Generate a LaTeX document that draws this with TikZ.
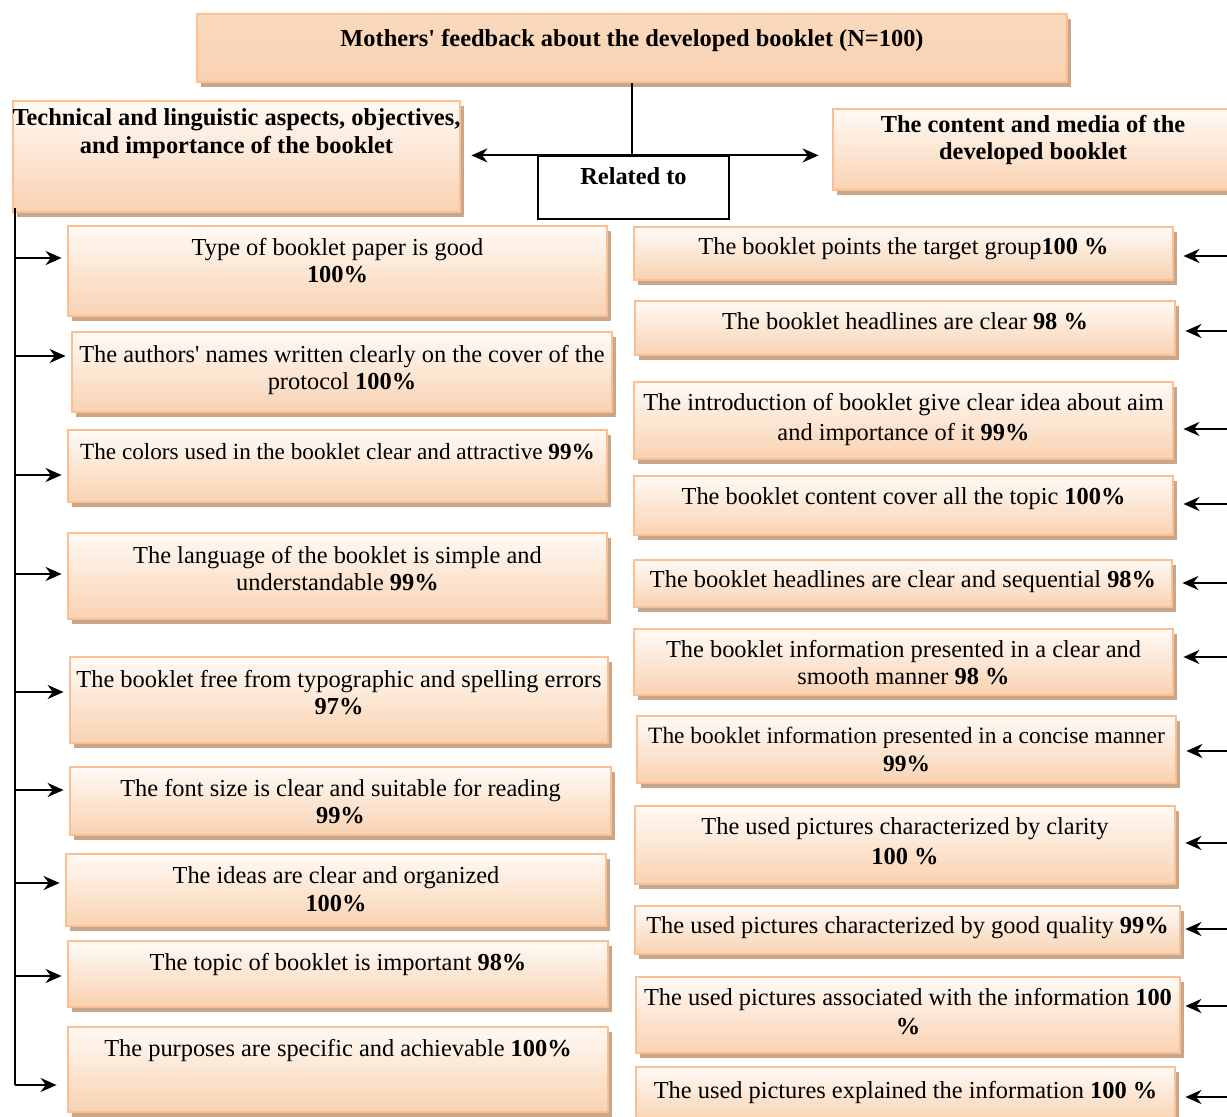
\documentclass[tikz,border=0pt]{standalone}
\usepackage{fontspec}
\setmainfont{Liberation Serif}[Ligatures=TeXOff]
\usetikzlibrary{arrows.meta,positioning,shadows}
\definecolor{fbedge}{RGB}{250,192,148}
\definecolor{fbtop}{RGB}{255,250,245}
\definecolor{fbbot}{RGB}{249,210,178}
\definecolor{fbshadow}{RGB}{200,166,138}
\newcommand{\fbfont}{\fontsize{12.2pt}{13.8pt}\selectfont}

\begin{document}
\begin{tikzpicture}[x=0.5pt,y=-0.5pt,
		fbsize/.style 2 args={minimum width=#1*0.5pt, minimum height=#2*0.5pt},
		fbbox/.style={rectangle, draw=fbedge, line width=1.4pt, top color=fbtop, bottom color=fbbot, inner sep=0pt,
			drop shadow={shadow xshift=2pt, shadow yshift=-2.4pt, fill=fbshadow, opacity=1}},
		fbtext/.style={font=\fbfont, align=center, inner sep=0pt},
		fbarrow/.style={line width=1.1pt, -{Stealth[length=8pt,width=7pt]}}]
		\useasboundingbox (0,0) rectangle (1227,1117);
		% headers
		\node[fbbox, fbsize={870}{68}, top color=fbbot!85, middle color=fbtop, bottom color=fbbot] (top) at (632,48) {};
		\node[fbtext, below=8pt of top.north] (topt) {\textbf{Mothers' feedback about the developed booklet (N=100)}};
		\node[fbbox, fbsize={447}{111}] (hl) at (236.5,156.5) {};
		\node[fbtext, below=4.5pt of hl.north] (hlt) {\textbf{Technical and linguistic aspects, objectives,}\\\textbf{and importance of the booklet}};
		\node[fbbox, fbsize={400}{81}] (hr) at (1033,149.5) {};
		\node[fbtext, below=3.5pt of hr.north] (hrt) {\textbf{The content and media of the}\\\textbf{developed booklet}};
		\node[rectangle, draw=black, line width=0.6pt, fill=white, fbsize={191}{63}] (rel) at (633.5,187.5) {};
		\node[fbtext, below=6pt of rel.north] (relt) {\textbf{Related to}};
		\draw[line width=1.1pt] (top.south) -- (top.south |- rel.north);
		\draw[line width=1.1pt, {Stealth[length=8pt,width=7pt]}-{Stealth[length=8pt,width=7pt]}, shorten <=5pt, shorten >=6.5pt] (hl.east |- rel.north) -- (hr.west |- rel.north);

		% left column
		\node[fbbox, fbsize={539}{90}] (l1) at (337.5,271) {};
		\node[fbtext, below=6.5pt of l1.north] (l1t) {Type of booklet paper is good\\\textbf{100\%}};
		\node[fbbox, fbsize={540}{80}] (l2) at (342,372) {};
		\node[fbtext, below=7pt of l2.north] (l2t) {The authors' names written clearly on the cover of the\\protocol \textbf{100\%}};
		\node[fbbox, fbsize={539}{72}] (l3) at (337.5,466) {};
		\node[fbtext, below=7pt of l3.north, font=\fontsize{11.6pt}{13.8pt}\selectfont] (l3t) {The colors used in the booklet clear and attractive \textbf{99\%}};
		\node[fbbox, fbsize={539}{86}] (l4) at (337.5,576) {};
		\node[fbtext, below=7pt of l4.north] (l4t) {The language of the booklet is simple and\\understandable \textbf{99\%}};
		\node[fbbox, fbsize={538}{86}] (l5) at (339,700) {};
		\node[fbtext, below=7pt of l5.north] (l5t) {The booklet free from typographic and spelling errors\\\textbf{97\%}};
		\node[fbbox, fbsize={541}{68}] (l6) at (340.5,801) {};
		\node[fbtext, below=6.5pt of l6.north] (l6t) {The font size is clear and suitable for reading\\\textbf{99\%}};
		\node[fbbox, fbsize={540}{72}] (l7) at (336,890) {};
		\node[fbtext, below=7pt of l7.north] (l7t) {The ideas are clear and organized\\\textbf{100\%}};
		\node[fbbox, fbsize={540}{66}] (l8) at (338,974) {};
		\node[fbtext, below=6.5pt of l8.north] (l8t) {The topic of booklet is important \textbf{98\%}};
		\node[fbbox, fbsize={540}{85}] (l9) at (338,1069.5) {};
		\node[fbtext, below=6.5pt of l9.north] (l9t) {The purposes are specific and achievable \textbf{100\%}};

		% right column
		\node[fbbox, fbsize={539}{53}] (r1) at (903.5,253.5) {};
		\node[fbtext, below=6pt of r1.north] (r1t) {The booklet points the target group\textbf{100 \%}};
		\node[fbbox, fbsize={540}{54}] (r2) at (905,328) {};
		\node[fbtext, below=6.5pt of r2.north] (r2t) {The booklet headlines are clear \textbf{98 \%}};
		\node[fbbox, fbsize={539}{77}] (r3) at (903.5,420.5) {};
		\node[fbtext, below=6pt of r3.north, font=\fontsize{12.2pt}{15pt}\selectfont] (r3t) {The introduction of booklet give clear idea about aim\\and importance of it \textbf{99\%}};
		\node[fbbox, fbsize={539}{59}] (r4) at (903.5,505.5) {};
		\node[fbtext, below=6.5pt of r4.north] (r4t) {The booklet content cover all the topic \textbf{100\%}};
		\node[fbbox, fbsize={538}{47}] (r5) at (903,583.5) {};
		\node[fbtext, below=6pt of r5.north] (r5t) {The booklet headlines are clear and sequential \textbf{98\%}};
		\node[fbbox, fbsize={539}{66}] (r6) at (903.5,662) {};
		\node[fbtext, below=6pt of r6.north] (r6t) {The booklet information presented in a clear and\\smooth manner \textbf{98 \%}};
		\node[fbbox, fbsize={539}{67}] (r7) at (906.5,749.5) {};
		\node[fbtext, below=6pt of r7.north, font=\fontsize{11.7pt}{13.8pt}\selectfont] (r7t) {The booklet information presented in a concise manner\\\textbf{99\%}};
		\node[fbbox, fbsize={540}{78}] (r8) at (905,845) {};
		\node[fbtext, below=6.5pt of r8.north, font=\fontsize{12.2pt}{14.6pt}\selectfont] (r8t) {The used pictures characterized by clarity\\\textbf{100 \%}};
		\node[fbbox, fbsize={545}{48}] (r9) at (907.5,930) {};
		\node[fbtext, below=6pt of r9.north] (r9t) {The used pictures characterized by good quality \textbf{99\%}};
		\node[fbbox, fbsize={544}{76}] (r10) at (908,1015) {};
		\node[fbtext, below=6pt of r10.north, font=\fontsize{12.2pt}{14.6pt}\selectfont] (r10t) {The used pictures associated with the information \textbf{100}\\\textbf{\%}};
		\node[fbbox, fbsize={539}{55}] (r11) at (905.5,1094.5) {};
		\node[fbtext, below=7.5pt of r11.north] (r11t) {The used pictures explained the information \textbf{100 \%}};

		% left spine and arrows
		\coordinate (st) at (15,208);
		\coordinate (s1) at (15,258);
		\coordinate (s2) at (15,356);
		\coordinate (s3) at (15,475);
		\coordinate (s4) at (15,574);
		\coordinate (s5) at (15,692);
		\coordinate (s6) at (15,790);
		\coordinate (s7) at (15,883);
		\coordinate (s8) at (15,976);
		\coordinate (s9) at (15,1085);
		\draw[line width=1.1pt] (st) -- (s9);
		\draw[fbarrow, shorten >=2.5pt] (s1) -- (s1 -| l1.west);
		\draw[fbarrow, shorten >=2.5pt] (s2) -- (s2 -| l2.west);
		\draw[fbarrow, shorten >=2.5pt] (s3) -- (s3 -| l3.west);
		\draw[fbarrow, shorten >=2.5pt] (s4) -- (s4 -| l4.west);
		\draw[fbarrow, shorten >=2.5pt] (s5) -- (s5 -| l5.west);
		\draw[fbarrow, shorten >=2.5pt] (s6) -- (s6 -| l6.west);
		\draw[fbarrow, shorten >=2.5pt] (s7) -- (s7 -| l7.west);
		\draw[fbarrow, shorten >=2.5pt] (s8) -- (s8 -| l8.west);
		\draw[fbarrow, shorten >=5pt] (s9) -- (s9 -| l9.west);

		% right arrows
		\coordinate (e1) at (1227,256);
		\coordinate (e2) at (1227,331);
		\coordinate (e3) at (1227,429);
		\coordinate (e4) at (1227,504);
		\coordinate (e5) at (1227,583);
		\coordinate (e6) at (1227,657);
		\coordinate (e7) at (1227,751);
		\coordinate (e8) at (1227,843);
		\coordinate (e9) at (1227,929);
		\coordinate (e10) at (1227,1006);
		\coordinate (e11) at (1227,1097);
		\draw[fbarrow, shorten >=4.5pt] (e1) -- (e1 -| r1.east);
		\draw[fbarrow, shorten >=4.5pt] (e2) -- (e2 -| r2.east);
		\draw[fbarrow, shorten >=4.5pt] (e3) -- (e3 -| r3.east);
		\draw[fbarrow, shorten >=4.5pt] (e4) -- (e4 -| r4.east);
		\draw[fbarrow, shorten >=4.5pt] (e5) -- (e5 -| r5.east);
		\draw[fbarrow, shorten >=4.5pt] (e6) -- (e6 -| r6.east);
		\draw[fbarrow, shorten >=4.5pt] (e7) -- (e7 -| r7.east);
		\draw[fbarrow, shorten >=4.5pt] (e8) -- (e8 -| r8.east);
		\draw[fbarrow, shorten >=2pt] (e9) -- (e9 -| r9.east);
		\draw[fbarrow, shorten >=2pt] (e10) -- (e10 -| r10.east);
		\draw[fbarrow, shorten >=4.5pt] (e11) -- (e11 -| r11.east);
	\end{tikzpicture}
\end{document}
